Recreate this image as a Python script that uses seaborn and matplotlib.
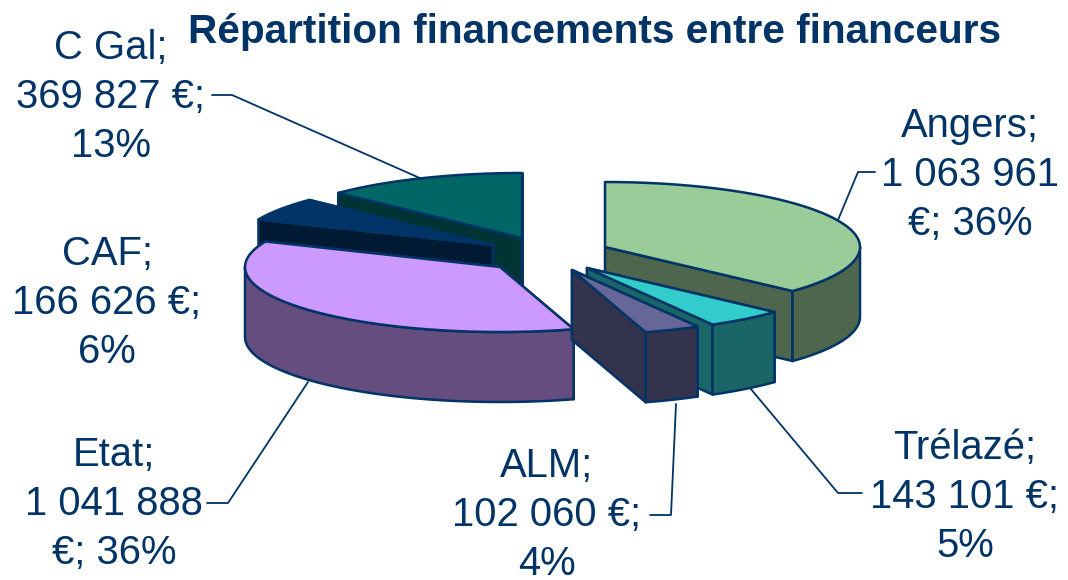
import numpy as np
import matplotlib.pyplot as plt
import matplotlib.colors as mcolors
import seaborn as sns

# ==========================================
# DATA
# ==========================================
FINANCEURS = ['Angers', 'Trélazé', 'ALM', 'Etat', 'CAF', 'C Gal']
MONTANTS = [1063961, 143101, 102060, 1041888, 166626, 369827]
LABELS = [
    'Angers;\n1 063 961\n€; 36%',
    'Trélazé;\n143 101 €;\n5%',
    'ALM;\n102 060 €;\n4%',
    'Etat;\n1 041 888\n€; 36%',
    'CAF;\n166 626 €;\n6%',
    'C Gal;\n369 827 €;\n13%',
]
TITLE = 'Répartition financements entre financeurs'

# ==========================================
# STYLE / LAYOUT (pixels of the 1068x580 figure)
# ==========================================
TOP_COLORS = ['#99CC99', '#33CCCC', '#666699', '#CC99FF', '#003366', '#006666']
EDGE = '#003366'
TEXT = '#003366'
RX, RY, DEPTH = 255, 65, 70
CENTERS = [(605, 247), (587, 268), (572, 270), (500, 267), (493, 245), (522, 238)]
LABEL_POS = [(970, 175), (965, 497), (547, 515), (114, 504), (107, 303), (111, 97)]
LEADERS = [
    [(838, 220), (858, 172), (875, 172)],
    [(750, 388), (838, 493), (862, 493)],
    [(676, 404), (671, 515), (650, 515)],
    [(308, 382), (228, 503), (207, 503)],
    None,
    [(212, 95), (232, 95), (422, 179)],
]
DRAW_ORDER = [5, 4, 0, 1, 3, 2]  # back to front


def rim_point(center, angle):
    # angle in degrees, clockwise from 12 o'clock
    a = np.radians(angle)
    return center[0] + RX * np.sin(a), center[1] - RY * np.cos(a)


def draw_slice(ax, center, a0, a1, color):
    side = tuple(c * 0.5 for c in mcolors.to_rgb(color))
    style = dict(facecolor=side, edgecolor=EDGE, linewidth=1.8, joinstyle='round')

    # the two cut faces, the one facing the viewer goes last
    faces = [a0, a1] if a0 < 180 else [a1, a0]
    for a in faces:
        x, y = rim_point(center, a)
        ax.fill([center[0], x, x, center[0]],
                [center[1], y, y + DEPTH, center[1] + DEPTH], **style)

    # outer wall, only the part in the front half
    lo, hi = max(a0, 90), min(a1, 270)
    if lo < hi:
        arc = np.linspace(lo, hi, 80)
        xs, ys = rim_point(center, arc)
        ax.fill(np.r_[xs, xs[::-1]], np.r_[ys, ys[::-1] + DEPTH], **style)

    # top
    arc = np.linspace(a0, a1, 120)
    xs, ys = rim_point(center, arc)
    ax.fill(np.r_[center[0], xs], np.r_[center[1], ys], facecolor=color,
            edgecolor=EDGE, linewidth=1.8, joinstyle='round')


def main():
    sns.set_theme(style='white')
    plt.rcParams['font.family'] = ['Liberation Sans', 'DejaVu Sans']

    fig = plt.figure(figsize=(10.68, 5.8), dpi=100)
    ax = fig.add_axes([0, 0, 1, 1])
    ax.set_xlim(0, 1068)
    ax.set_ylim(580, 0)
    ax.axis('off')

    angles = np.r_[0, np.cumsum(MONTANTS)] / np.sum(MONTANTS) * 360

    for i in DRAW_ORDER:
        draw_slice(ax, CENTERS[i], angles[i], angles[i + 1], TOP_COLORS[i])

    for line in LEADERS:
        if line is not None:
            xs, ys = zip(*line)
            ax.plot(xs, ys, color=EDGE, linewidth=1.3, zorder=1)

    for label, (x, y) in zip(LABELS, LABEL_POS):
        ax.text(x, y, label, color=TEXT, fontsize=28.8, ha='center', va='center',
                linespacing=1.37)

    ax.text(594, 32, TITLE, color=TEXT, fontsize=29.2, fontweight='bold',
            ha='center', va='center')

    fig.savefig('out.png', dpi=100)
    plt.close(fig)


if __name__ == '__main__':
    main()
